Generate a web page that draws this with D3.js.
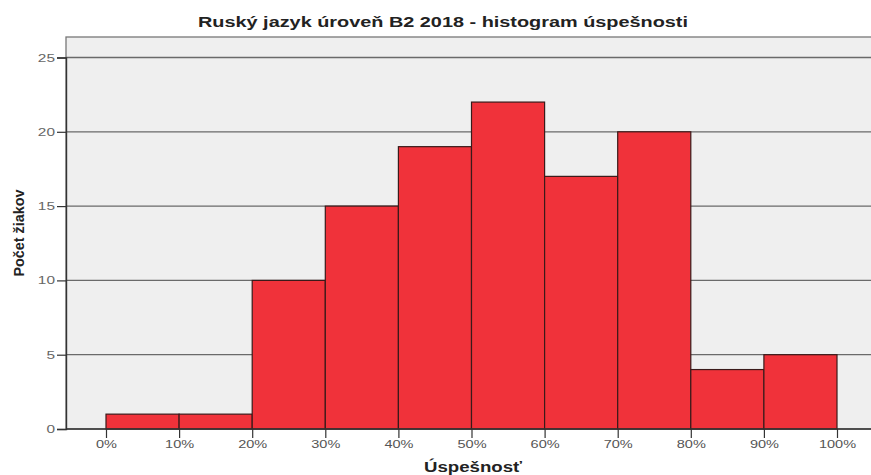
<!DOCTYPE html>
<html><head><meta charset="utf-8">
<script src="https://cdn.jsdelivr.net/npm/d3@7"></script>
<style>body{margin:0;background:#fff}svg{display:block}</style>
</head><body>
<script>
const binStarts = [0,10,20,30,40,50,60,70,80,90];
const counts = [1,1,10,15,19,22,17,20,4,5];
const xTicks = [0,10,20,30,40,50,60,70,80,90,100];
const yTicks = [0,5,10,15,20,25];
const title = "Ruský jazyk úroveň B2 2018 - histogram úspešnosti";
const xTitle = "Úspešnosť";
const yTitle = "Počet žiakov";

(function(){
const W=871,H=475;
const FONT="Liberation Sans, Arial, sans-serif";
const svg=d3.select("body").append("svg").attr("width",W).attr("height",H);
const pL=66, pT=37, pR=880, pB=429;
const x=d3.scaleLinear().domain([0,100]).range([106,837]);
const y=d3.scaleLinear().domain([0,25]).range([pB,57.5]);

function stretch(sel,f){
  sel.each(function(){
    const n=this.getComputedTextLength();
    d3.select(this).attr("textLength",n*f).attr("lengthAdjust","spacingAndGlyphs");
  });
}

svg.append("rect").attr("x",pL).attr("y",pT).attr("width",pR-pL).attr("height",pB-pT)
  .attr("fill","#efefef").attr("stroke","#777").attr("stroke-width",1.3);

svg.append("g").selectAll("line").data(yTicks.filter(d=>d>0)).join("line")
  .attr("x1",pL).attr("x2",pR).attr("y1",d=>y(d)).attr("y2",d=>y(d))
  .attr("stroke","#6a6a6a").attr("stroke-width",1.3);

svg.append("g").selectAll("rect").data(binStarts).join("rect")
  .attr("x",d=>x(d)).attr("width",d=>x(d+10)-x(d))
  .attr("y",(d,i)=>y(counts[i])).attr("height",(d,i)=>pB-y(counts[i]))
  .attr("fill","#f0323a").attr("stroke","#3a1a1a").attr("stroke-width",1.2);

const ya=svg.append("g").attr("transform",`translate(${pL},0)`)
  .call(d3.axisLeft(y).tickValues(yTicks).tickSize(9).tickPadding(2));
ya.select(".domain").attr("stroke","#333").attr("stroke-width",1.4);
ya.selectAll(".tick line").attr("stroke","#333").attr("stroke-width",1.2);
ya.selectAll("text").attr("fill","#666").attr("font-family",FONT).attr("font-size",11).call(stretch,1.4);

const xa=svg.append("g").attr("transform",`translate(0,${pB})`)
  .call(d3.axisBottom(x).tickValues(xTicks).tickSize(9).tickPadding(3).tickFormat(d=>d+"%"));
xa.select(".domain").remove();
svg.append("line").attr("x1",pL).attr("x2",pR).attr("y1",pB).attr("y2",pB).attr("stroke","#333").attr("stroke-width",1.4);
xa.selectAll(".tick line").attr("stroke","#333").attr("stroke-width",1.2);
xa.selectAll("text").attr("fill","#555").attr("font-family",FONT).attr("font-size",10).call(stretch,1.45);

svg.append("text").attr("x",443).attr("y",27).attr("text-anchor","middle")
  .attr("font-family",FONT).attr("font-weight","bold").attr("font-size",14).attr("fill","#222")
  .attr("textLength",490).attr("lengthAdjust","spacingAndGlyphs").text(title);
svg.append("text").attr("x",473).attr("y",472).attr("text-anchor","middle")
  .attr("font-family",FONT).attr("font-weight","bold").attr("font-size",14).attr("fill","#222")
  .attr("textLength",98).attr("lengthAdjust","spacingAndGlyphs").text(xTitle);
svg.append("text").attr("transform","translate(24,233) rotate(-90)").attr("text-anchor","middle")
  .attr("font-family",FONT).attr("font-weight","bold").attr("font-size",14.5).attr("fill","#222")
  .attr("textLength",87).attr("lengthAdjust","spacingAndGlyphs").text(yTitle);
})();
</script>
</body></html>
